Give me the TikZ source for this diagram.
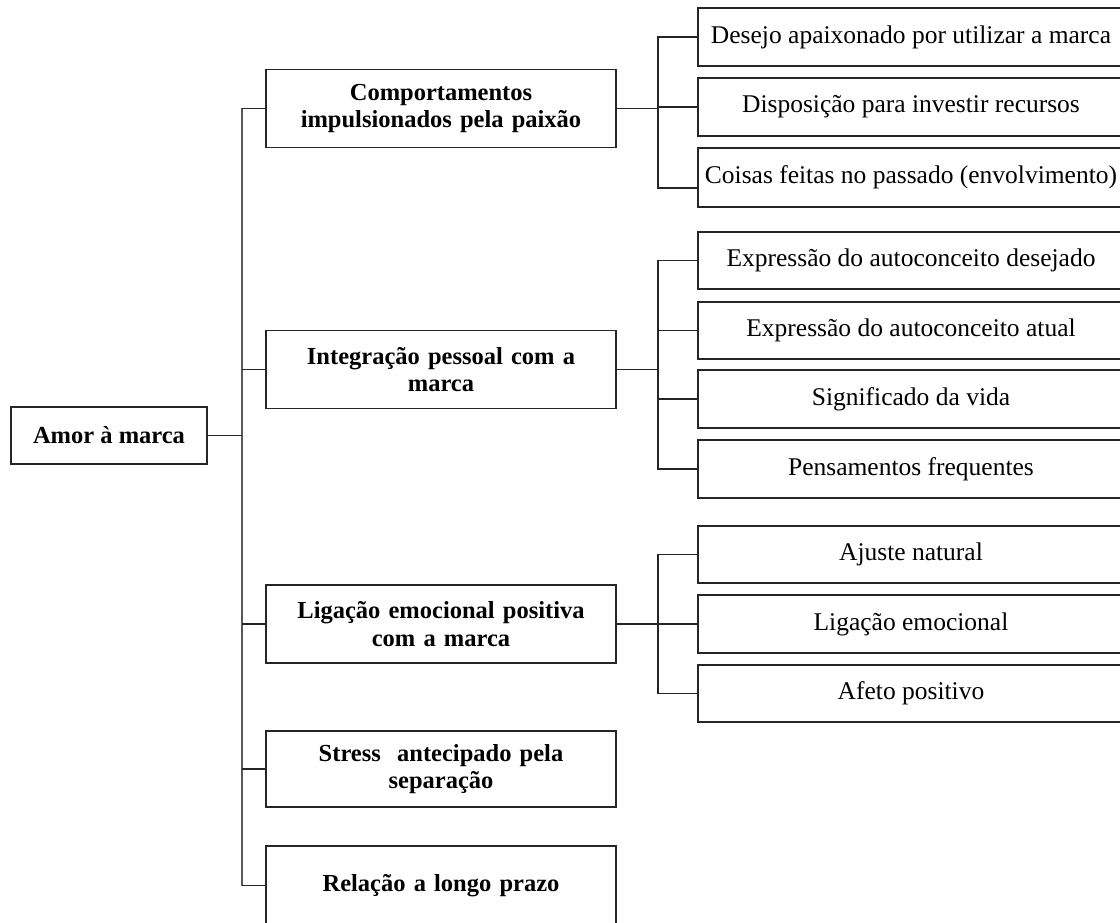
\documentclass[tikz,border=0pt]{standalone}
\usepackage{fontspec}
\setmainfont{Liberation Serif}
\begin{document}
\begin{tikzpicture}[x=1pt,y=-1pt,
  box/.style={draw=black!85, line width=1.3pt, rectangle, inner sep=2pt,
    align=center, font=\fontsize{24}{27}\selectfont},
  rootbox/.style={box, minimum width=196pt, minimum height=57pt, font=\fontsize{24.5}{27}\selectfont\bfseries},
  midbox/.style={box, minimum width=350pt, minimum height=78pt, text width=330pt, font=\fontsize{24.5}{27.5}\selectfont\bfseries},
  leafbox/.style={box, minimum width=426pt, minimum height=58pt, font=\fontsize{25.5}{28}\selectfont},
  link/.style={draw=black!85, line width=1.1pt},
  trunk/.style={draw=black!65, line width=1.6pt}]
\useasboundingbox (0,0) rectangle (1120,923);
\begin{scope}
\clip (0,0) rectangle (1120,923);

% root
\node[rootbox] (root) at (109,435.5) {Amor à marca};

% second level
\node[midbox] (b1) at (441,108.5) {Comportamentos\\impulsionados pela paixão};
\node[midbox] (b2) at (441,369.5) {Integração pessoal com a\\marca};
\node[midbox] (b3) at (441,624) {Ligação emocional positiva\\com a marca};
\node[midbox, minimum height=76pt] (b4) at (441,769) {Stress\ \ antecipado pela\\separação};
\node[midbox, minimum height=79pt] (b5) at (441,885.5) {Relação a longo prazo};

% third level
\node[leafbox] (r1a) at (911,37) {Desejo apaixonado por utilizar a marca};
\node[leafbox] (r1b) at (911,107) {Disposição para investir recursos};
\node[leafbox, minimum height=59pt] (r1c) at (911,177.5) {Coisas feitas no passado (envolvimento)};

\node[leafbox, minimum height=57pt] (r2a) at (911,260.5) {Expressão do autoconceito desejado};
\node[leafbox, minimum height=57pt] (r2b) at (911,330.5) {Expressão do autoconceito atual};
\node[leafbox] (r2c) at (911,399) {Significado da vida};
\node[leafbox] (r2d) at (911,469) {Pensamentos frequentes};

\node[leafbox, minimum height=57pt] (r3a) at (911,554.5) {Ajuste natural};
\node[leafbox] (r3b) at (911,624) {Ligação emocional};
\node[leafbox, minimum height=57pt] (r3c) at (911,693.5) {Afeto positivo};

% junction columns
\coordinate (tr) at (242,0);
\coordinate (j) at (658,0);
\coordinate (r1cin) at ([yshift=-10.5pt]r1c.west);

% trunk from the root to the second level
\draw[trunk] (b1.west -| tr) -- (b5.west -| tr);
\draw[link] (root.east) -- (root.east -| tr);
\foreach \n in {b1,b2,b3,b4,b5}
  \draw[link] (\n.west -| tr) -- (\n.west);

% branch 1
\draw[link] (b1.east) -- (b1.east -| j);
\draw[link] (r1a.west) -- (r1a.west -| j) -- (r1cin -| j) -- (r1cin);
\draw[link] (r1b.west -| j) -- (r1b.west);

% branch 2
\draw[link] (b2.east) -- (b2.east -| j);
\draw[link] (r2a.west) -- (r2a.west -| j) -- (r2d.west -| j) -- (r2d.west);
\draw[link] (r2b.west -| j) -- (r2b.west);
\draw[link] (r2c.west -| j) -- (r2c.west);

% branch 3
\draw[link] (b3.east) -- (b3.east -| j);
\draw[link] (r3a.west) -- (r3a.west -| j) -- (r3c.west -| j) -- (r3c.west);
\draw[link] (r3b.west -| j) -- (r3b.west);
\end{scope}
\end{tikzpicture}
\end{document}
